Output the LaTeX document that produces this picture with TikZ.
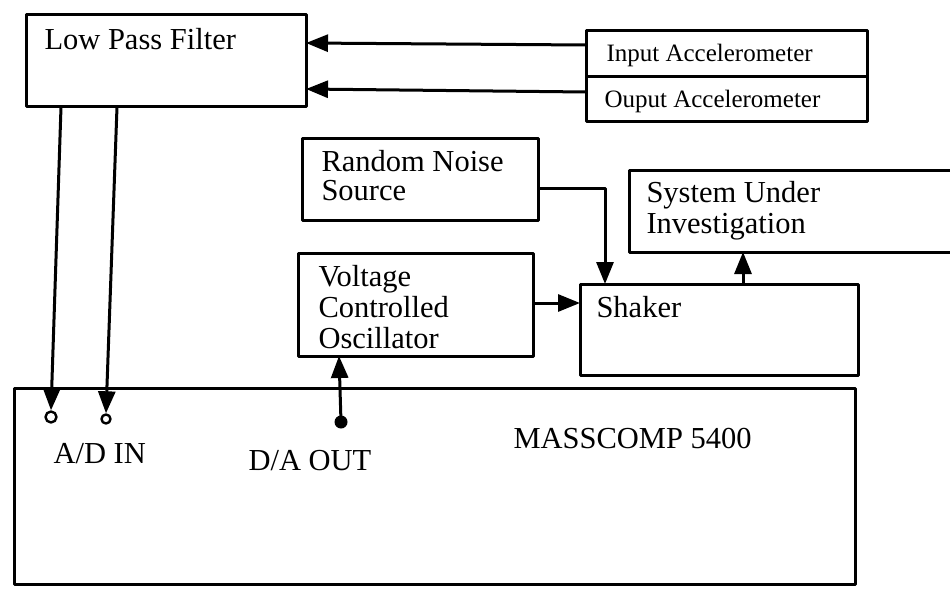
\documentclass[tikz,border=0pt]{standalone}
\usepackage{fontspec}
\setmainfont{Liberation Serif}
\usetikzlibrary{arrows.meta,calc}
\begin{document}
\begin{tikzpicture}[x=1pt,y=-1pt,
  line width=3pt, line join=round,
  box/.style={draw, rectangle, anchor=north west, inner sep=0pt, outer sep=0pt, line width=3pt},
  lbl/.style={anchor=base west, inner sep=0pt, font=\fontsize{30.5}{31}\selectfont, align=left},
  sml/.style={anchor=base west, inner sep=0pt, font=\fontsize{25}{26}\selectfont},
  arr/.style={-{Triangle[length=22pt,width=17pt]}, line width=3pt},
  term/.style={circle, draw, inner sep=0pt, line width=2.4pt},
]
\useasboundingbox (0,0) rectangle (950,599);

% boxes
\node[box, minimum width=280pt, minimum height=92pt] (lpf) at (26,15) {};
\node[box, minimum width=281pt, minimum height=46pt] (ia) at (586,31) {};
\node[box, minimum width=281pt, minimum height=45pt] (oa) at (586,77) {};
\node[box, minimum width=236pt, minimum height=81pt] (rns) at (302,139) {};
\node[box, minimum width=235pt, minimum height=103pt] (vco) at (298,253) {};
\node[box, minimum width=278pt, minimum height=91pt] (shk) at (580,284) {};
\node[box, minimum width=841pt, minimum height=196pt] (mc) at (14,388) {};
% system under investigation (open to the right)
\draw (952,170) -- (629,170) -- (629,252) -- (952,252);

% texts (multi-line nodes are anchored at the baseline of their last line)
\node[lbl] (tlpf) at (43,50) {Low Pass Filter};
\node[sml] (tia) at (605,62) {Input Accelerometer};
\node[sml] (toa) at (603,108) {Ouput Accelerometer};
\node[lbl, font=\fontsize{30.5}{28.5}\selectfont] (trns) at (320,200) {Random Noise\\Source};
\node[lbl] (tvco) at (317,348) {Voltage\\Controlled\\Oscillator};
\node[lbl] (tshk) at (595,317) {Shaker};
\node[lbl] (tsui) at (645,233) {System Under\\Investigation};
\node[lbl] (tmc) at (512,448) {MASSCOMP 5400};
\node[lbl] (tad) at (52,463) {A/D IN};
\node[lbl] (tda) at (247,470) {D/A OUT};

% terminals
\node[term, minimum size=11pt] (ad1) at (51,417) {};
\node[term, minimum size=9pt] (ad2) at (106,419) {};
\node[circle, fill, inner sep=0pt, minimum size=13pt] (da) at (341,422) {};

% coordinates
\coordinate (lpfo1) at (61,107);
\coordinate (lpfo2) at (117,107);
\coordinate (iaout) at (586,45);
\coordinate (lpfi1) at (306,43);
\coordinate (oaout) at (586,92);
\coordinate (lpfi2) at (306,89);
\coordinate (rnsout) at (538,188);
\coordinate (shkin) at (605,284);
\coordinate (vcoout) at (533,303);
\coordinate (shkleft) at (580,303);
\coordinate (shkup) at (743,284);
\coordinate (suiin) at (743,252);
\coordinate (vcoin) at (339,356);

% connectors
\draw[arr] (iaout) -- (lpfi1);
\draw[arr] (oaout) -- (lpfi2);
\draw[arr] (lpfo1) -- (ad1.north);
\draw[arr] (lpfo2) -- (ad2.north);
\draw[arr] (rnsout) -| (shkin);
\draw[arr] (vcoout) -- (shkleft);
\draw[arr] (shkup) -- (suiin);
\draw[arr] (da.center) -- (vcoin);
\end{tikzpicture}
\end{document}
